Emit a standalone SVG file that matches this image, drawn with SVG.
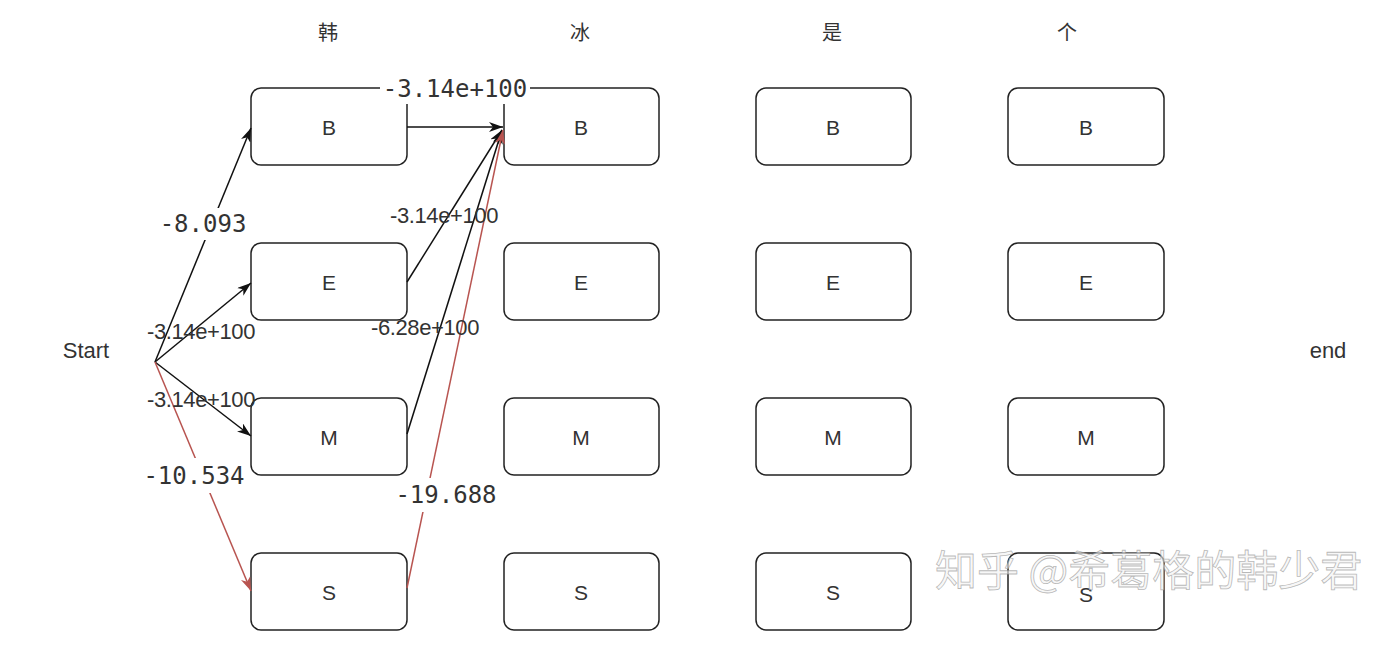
<svg xmlns="http://www.w3.org/2000/svg" width="1382" height="656" viewBox="0 0 1382 656">
<style>
.box{fill:#fff;stroke:#222;stroke-width:1.5}
.lbl{font-family:"Liberation Sans",Arial,sans-serif;font-size:21px;fill:#333;text-anchor:middle;dominant-baseline:central}
.hdr{font-family:"Noto Sans CJK SC",sans-serif;font-size:20px;fill:#333;text-anchor:middle;dominant-baseline:central}
.edge{fill:none;stroke:#111;stroke-width:1.5}
.red{stroke:#b85450}
.el{font-family:"Liberation Sans",Arial,sans-serif;font-size:22px;fill:#333;text-anchor:middle;dominant-baseline:central;letter-spacing:-0.4px}
.ml{font-family:"DejaVu Sans Mono","Liberation Mono",monospace;font-size:24px;fill:#333;text-anchor:middle;dominant-baseline:central}
.bg{fill:#fff}
.wm{font-family:"Noto Sans CJK SC",sans-serif;font-size:42px;fill:#f2f2f2;stroke:#9a9a9a;stroke-width:0.8;fill-opacity:0.6;stroke-opacity:0.7}
</style>
<defs>
<marker id="ab" markerUnits="userSpaceOnUse" markerWidth="14" markerHeight="10" viewBox="0 0 14 10" refX="14" refY="5" orient="auto"><path d="M0,0 L14,5 L0,10 L4,5 Z" fill="#111"/></marker>
<marker id="ar" markerUnits="userSpaceOnUse" markerWidth="14" markerHeight="10" viewBox="0 0 14 10" refX="14" refY="5" orient="auto"><path d="M0,0 L14,5 L0,10 L4,5 Z" fill="#b85450"/></marker>
</defs>
<rect width="1382" height="656" fill="#fff"/>
<g id="headers">
<text class="hdr" x="328" y="31">韩</text>
<text class="hdr" x="580" y="31">冰</text>
<text class="hdr" x="832" y="31">是</text>
<text class="hdr" x="1067" y="31">个</text>
</g>
<g id="start"><text class="lbl" x="86" y="350" style="font-size:22px">Start</text></g>
<g id="end"><text class="lbl" x="1328" y="350" style="font-size:22px">end</text></g>
<g id="c1B"><rect class="box" x="251" y="88" width="156" height="77" rx="10"/><text class="lbl" x="329" y="127">B</text></g>
<g id="c1E"><rect class="box" x="251" y="243" width="156" height="77" rx="10"/><text class="lbl" x="329" y="282">E</text></g>
<g id="c1M"><rect class="box" x="251" y="398" width="156" height="77" rx="10"/><text class="lbl" x="329" y="437">M</text></g>
<g id="c1S"><rect class="box" x="251" y="553" width="156" height="77" rx="10"/><text class="lbl" x="329" y="592">S</text></g>
<g id="c2B"><rect class="box" x="504" y="88" width="155" height="77" rx="10"/><text class="lbl" x="581" y="127">B</text></g>
<g id="c2E"><rect class="box" x="504" y="243" width="155" height="77" rx="10"/><text class="lbl" x="581" y="282">E</text></g>
<g id="c2M"><rect class="box" x="504" y="398" width="155" height="77" rx="10"/><text class="lbl" x="581" y="437">M</text></g>
<g id="c2S"><rect class="box" x="504" y="553" width="155" height="77" rx="10"/><text class="lbl" x="581" y="592">S</text></g>
<g id="c3B"><rect class="box" x="756" y="88" width="155" height="77" rx="10"/><text class="lbl" x="833" y="127">B</text></g>
<g id="c3E"><rect class="box" x="756" y="243" width="155" height="77" rx="10"/><text class="lbl" x="833" y="282">E</text></g>
<g id="c3M"><rect class="box" x="756" y="398" width="155" height="77" rx="10"/><text class="lbl" x="833" y="437">M</text></g>
<g id="c3S"><rect class="box" x="756" y="553" width="155" height="77" rx="10"/><text class="lbl" x="833" y="592">S</text></g>
<g id="c4B"><rect class="box" x="1008" y="88" width="156" height="77" rx="10"/><text class="lbl" x="1086" y="127">B</text></g>
<g id="c4E"><rect class="box" x="1008" y="243" width="156" height="77" rx="10"/><text class="lbl" x="1086" y="282">E</text></g>
<g id="c4M"><rect class="box" x="1008" y="398" width="156" height="77" rx="10"/><text class="lbl" x="1086" y="437">M</text></g>
<g id="c4S"><rect class="box" x="1008" y="553" width="156" height="77" rx="10"/><text class="lbl" x="1086" y="594">S</text></g>
<g id="connectors">
<line class="edge" x1="155" y1="362" x2="251" y2="128" marker-end="url(#ab)"/>
<line class="edge" x1="155" y1="362" x2="251" y2="283" marker-end="url(#ab)"/>
<line class="edge" x1="155" y1="362" x2="251" y2="436" marker-end="url(#ab)"/>
<line class="edge red" x1="155" y1="362" x2="251" y2="591" marker-end="url(#ar)"/>
<line class="edge" x1="407" y1="127" x2="503" y2="127" marker-end="url(#ab)"/>
<line class="edge" x1="407" y1="282" x2="502" y2="130" marker-end="url(#ab)"/>
<line class="edge" x1="407" y1="434" x2="502" y2="130" marker-end="url(#ab)"/>
<line class="edge red" x1="407" y1="588" x2="503" y2="130" marker-end="url(#ar)"/>
<rect class="bg" x="380" y="76" width="150" height="28"/>
<text class="ml" x="455" y="89">-3.14e+100</text>
<rect class="bg" x="158" y="208" width="90" height="32"/>
<text class="ml" x="203" y="224">-8.093</text>
<rect class="bg" x="141" y="458" width="106" height="35"/>
<text class="ml" x="194" y="476">-10.534</text>
<rect class="bg" x="393" y="478" width="106" height="34"/>
<text class="ml" x="446" y="495">-19.688</text>
<text class="el" x="444" y="215">-3.14e+100</text>
<text class="el" x="425" y="327">-6.28e+100</text>
<text class="el" x="201" y="331">-3.14e+100</text>
<text class="el" x="201" y="399">-3.14e+100</text>
</g>
<g id="watermark"><text class="wm" x="935" y="586">知乎 @希葛格的韩少君</text></g>
</svg>
